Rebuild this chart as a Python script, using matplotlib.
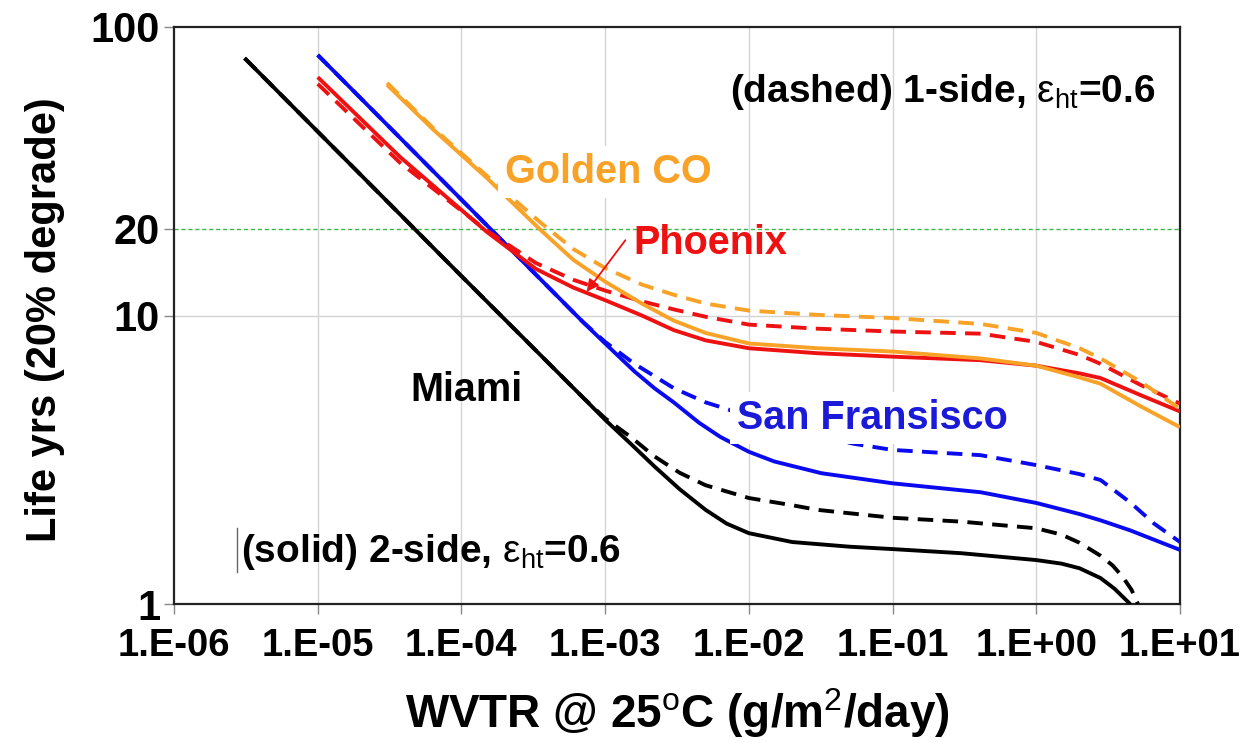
import matplotlib
matplotlib.use("Agg")
import matplotlib.pyplot as plt

# ---------------------------------------------------------------------------
# Datos (WVTR en g/m2/dia, vida en anos)
# ---------------------------------------------------------------------------
miami_2s_x = [3.1e-6, 1e-4, 7e-4, 1e-3, 1.5e-3, 2.2e-3, 3.3e-3, 5e-3, 7e-3, 1e-2, 2e-2, 5e-2,
              1e-1, 3e-1, 1.0, 1.5, 2.0, 2.8, 3.5, 4.5]
miami_2s_y = [78, 13.7, 5.2, 4.35, 3.6, 3.0, 2.5, 2.12, 1.9, 1.76, 1.64, 1.58,
              1.55, 1.5, 1.42, 1.38, 1.33, 1.23, 1.13, 1.0]
miami_1s_x = [3.1e-6, 1e-4, 7e-4, 1e-3, 1.5e-3, 2.2e-3, 3.3e-3, 5e-3, 1e-2, 2e-2, 3e-2, 1e-1,
              3e-1, 1.0, 1.5, 2.0, 2.8, 3.4, 4.0, 4.6, 5.1]
miami_1s_y = [78, 13.7, 5.2, 4.4, 3.8, 3.25, 2.85, 2.58, 2.33, 2.2, 2.12, 1.99,
              1.93, 1.83, 1.74, 1.63, 1.47, 1.36, 1.24, 1.12, 1.0]

sf_2s_x = [1e-5, 7e-4, 1e-3, 1.6e-3, 2.2e-3, 3e-3, 4.5e-3, 6.3e-3, 1e-2, 1.5e-2, 3.2e-2, 1e-1,
           4.1e-1, 1.0, 2.0, 2.8, 4.5, 10]
sf_2s_y = [80, 9.5, 8.0, 6.4, 5.6, 5.0, 4.25, 3.8, 3.37, 3.12, 2.84, 2.62,
           2.44, 2.24, 2.05, 1.95, 1.80, 1.54]
sf_1s_x = [1e-5, 7e-4, 1e-3, 1.6e-3, 3e-3, 5e-3, 8.5e-3, 2e-2, 5.4e-2, 1e-1, 4.1e-1, 1.0,
           2.0, 2.8, 4.5, 6.6, 10]
sf_1s_y = [80, 9.5, 8.1, 6.8, 5.6, 5.0, 4.6, 4.0, 3.59, 3.42, 3.28, 3.03,
           2.82, 2.69, 2.25, 1.9, 1.64]

phx_2s_x = [1e-5, 3.75e-5, 1.5e-4, 3.3e-4, 6e-4, 1e-3, 1.8e-3, 3e-3, 5e-3, 1e-2, 3e-2, 1e-1,
            4.1e-1, 1.0, 2.0, 2.8, 5.3, 10]
phx_2s_y = [67, 35.4, 19.5, 14.5, 12.5, 11.3, 10.0, 8.9, 8.2, 7.7, 7.4, 7.2,
            7.0, 6.7, 6.3, 6.07, 5.3, 4.65]
phx_1s_x = [1e-5, 3.75e-5, 1.5e-4, 3.3e-4, 6e-4, 1e-3, 1.8e-3, 3e-3, 5e-3, 1e-2, 3e-2, 1e-1,
            4.1e-1, 1.0, 2.0, 2.8, 5.3, 10]
phx_1s_y = [63.5, 33.8, 19.7, 15.2, 13.3, 12.2, 11.2, 10.5, 9.9, 9.3, 9.0, 8.8,
            8.65, 8.1, 7.3, 6.8, 5.75, 4.95]

gold_2s_x = [3.04e-5, 6.4e-5, 1.5e-4, 3.55e-4, 6e-4, 1e-3, 1.8e-3, 3e-3, 5e-3, 1e-2, 3e-2, 1e-1,
             4.1e-1, 1.0, 2.0, 2.8, 5.3, 10]
gold_2s_y = [63, 44, 30, 19.8, 15.6, 13.1, 11.0, 9.6, 8.7, 8.0, 7.7, 7.5,
             7.1, 6.7, 6.1, 5.8, 4.85, 4.1]
gold_1s_x = [3.04e-5, 6.4e-5, 1.5e-4, 3.55e-4, 6e-4, 1e-3, 1.8e-3, 3e-3, 5e-3, 1e-2, 3e-2, 1e-1,
             4.1e-1, 1.0, 2.0, 2.8, 5.3, 10]
gold_1s_y = [64, 44.5, 30.5, 21, 17, 14.6, 12.8, 11.8, 11.0, 10.4, 10.05, 9.8,
             9.35, 8.7, 7.7, 7.1, 5.9, 4.75]

xtick_vals = [1e-6, 1e-5, 1e-4, 1e-3, 1e-2, 1e-1, 1e0, 1e1]
xtick_labels = ["1.E-06", "1.E-05", "1.E-04", "1.E-03", "1.E-02", "1.E-01", "1.E+00", "1.E+01"]
ytick_vals = [1, 10, 20, 100]
ytick_labels = ["1", "10", "20", "100"]
target_life = 20

# ---------------------------------------------------------------------------
# Estilo
# ---------------------------------------------------------------------------
plt.rcParams["font.family"] = ["Liberation Sans", "DejaVu Sans"]
plt.rcParams["mathtext.fontset"] = "custom"
plt.rcParams["mathtext.rm"] = "Liberation Sans"
plt.rcParams["mathtext.it"] = "Liberation Sans:italic"
plt.rcParams["mathtext.bf"] = "Liberation Sans:bold"
plt.rcParams["mathtext.default"] = "regular"

BLACK = "#000000"
BLUE = "#0a0af0"
RED = "#ee1111"
ORANGE = "#f9a228"
LW = 2.8
DASH = (4, 2.4)

fig = plt.figure(figsize=(12.42, 7.43), dpi=100)
ax = fig.add_axes([174 / 1242, 1 - 604 / 743, 1006 / 1242, 577 / 743])

curves = [
    (miami_2s_x, miami_2s_y, BLACK, False),
    (miami_1s_x, miami_1s_y, BLACK, True),
    (sf_2s_x, sf_2s_y, BLUE, False),
    (sf_1s_x, sf_1s_y, BLUE, True),
    (phx_2s_x, phx_2s_y, RED, False),
    (phx_1s_x, phx_1s_y, RED, True),
    (gold_2s_x, gold_2s_y, ORANGE, False),
    (gold_1s_x, gold_1s_y, ORANGE, True),
]
for xs, ys, col, dashed in curves:
    line, = ax.plot(xs, ys, color=col, lw=LW, solid_capstyle="butt",
                    solid_joinstyle="round", dash_joinstyle="round", zorder=3)
    if dashed:
        line.set_dashes(DASH)

ax.set_xscale("log")
ax.set_yscale("log")
ax.set_xlim(1e-6, 1e1)
ax.set_ylim(1, 100)

# rejilla: verticales por decada, horizontal en 10, linea objetivo en 20
for xv in xtick_vals[1:-1]:
    ax.axvline(xv, color="#d4d4d4", lw=1.0, zorder=1)
ax.axhline(10, color="#d4d4d4", lw=1.0, zorder=1)
ax.axhline(target_life, color="#3dbb4a", lw=1.0, ls=(0, (3, 2)), zorder=1)

ax.set_xticks(xtick_vals, xtick_labels)
ax.set_yticks(ytick_vals, ytick_labels)
ax.minorticks_off()
ax.tick_params(axis="both", direction="out", length=7, width=1.0, color="#888888")
ax.tick_params(axis="x", pad=10, labelsize=27.5)
ax.tick_params(axis="y", pad=3, labelsize=30)
for lab in ax.get_xticklabels() + ax.get_yticklabels():
    lab.set_fontweight("bold")
for sp in ax.spines.values():
    sp.set_linewidth(1.6)
    sp.set_color("#222222")

ax.set_ylabel("Life yrs (20% degrade)", fontsize=30, fontweight="bold")
ax.yaxis.set_label_coords(-0.108, 0.492)
ax.set_xlabel(r"WVTR @ 25$^{\rm o}$C (g/m$^{\rm 2}$/day)", fontsize=33, fontweight="bold")
ax.xaxis.set_label_coords(0.5, -0.142)


def px(xp, yp):
    return ((xp - 174) / 1006, (604 - yp) / 577)


white = dict(facecolor="white", edgecolor="none", pad=5)
ax.text(*px(730, 92), r"(dashed) 1-side, $\mathrm{\varepsilon}_{\mathrm{ht}}$=0.6",
        transform=ax.transAxes, fontsize=28, fontweight="bold", va="center", ha="left", zorder=5)
ax.text(*px(241, 552), r"(solid) 2-side, $\mathrm{\varepsilon}_{\mathrm{ht}}$=0.6",
        transform=ax.transAxes, fontsize=28, fontweight="bold", va="center", ha="left", zorder=5)
ax.plot(*zip(px(237, 528), px(237, 572)), transform=ax.transAxes, color="#666666", lw=1.0)
ax.text(*px(505, 172), "Golden CO", transform=ax.transAxes, color=ORANGE,
        fontsize=28.5, fontweight="bold", va="center", ha="left", zorder=5, bbox=white)
ax.text(*px(633, 243), "Phoenix", transform=ax.transAxes, color=RED,
        fontsize=28.5, fontweight="bold", va="center", ha="left", zorder=5)
ax.text(*px(737, 418), "San Fransisco", transform=ax.transAxes, color="#1a1ad8",
        fontsize=28.5, fontweight="bold", va="center", ha="left", zorder=5, bbox=white)
ax.text(*px(410, 390), "Miami", transform=ax.transAxes, color=BLACK,
        fontsize=28.5, fontweight="bold", va="center", ha="left", zorder=5)
ax.annotate("", xy=px(585, 294), xytext=px(627, 238), xycoords="axes fraction",
            textcoords="axes fraction",
            arrowprops=dict(arrowstyle="-|>", color=RED, lw=1.3, mutation_scale=18), zorder=6)

fig.savefig("out.png", dpi=100)
